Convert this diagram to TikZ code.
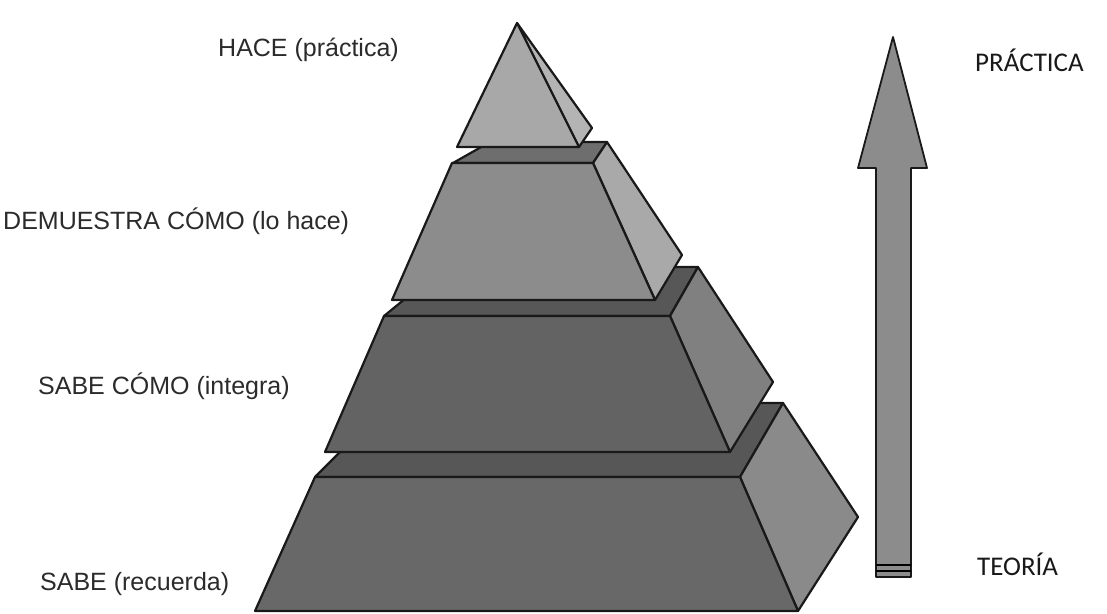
\documentclass[tikz,border=0pt]{standalone}
\usepackage{fontspec}
\setmainfont{Liberation Sans}
\newfontfamily\calibrifont{Carlito}
\usetikzlibrary{positioning}
\definecolor{topdark}{HTML}{575757}
\definecolor{toptwo}{HTML}{6E6E6E}
\definecolor{frontlow}{HTML}{686868}
\definecolor{frontmid}{HTML}{8C8C8C}
\definecolor{frontpeak}{HTML}{A8A8A8}
\definecolor{sidelow}{HTML}{8A8A8A}
\definecolor{sidemid}{HTML}{808080}
\definecolor{sidehigh}{HTML}{A9A9A9}
\definecolor{sidepeak}{HTML}{B4B4B4}
\definecolor{labgray}{HTML}{2B2B2B}

\begin{document}
\begin{tikzpicture}[x=1pt, y=-1pt, line join=round,
	facet/.style={draw=black!90, line width=2.2pt},
	lab/.style={font=\fontsize{25}{30}\selectfont, text=labgray, inner sep=0pt},
	poletext/.style={font=\calibrifont\fontsize{27}{32}\selectfont, text=black!90, inner sep=0pt}]
	\fill[white] (0,0) rectangle (1107,613);
	\useasboundingbox (0,0) rectangle (1107,613);
	% bottom block
	\filldraw[facet, fill=topdark] (315,477) -- (740,477) -- (783,403) -- (389,403) -- cycle;
	\filldraw[facet, fill=sidelow] (740,477) -- (783,403) -- (858,517) -- (798,611) -- cycle;
	\filldraw[facet, fill=frontlow] (315,477) -- (740,477) -- (798,611) -- (255,611) -- cycle;
	% third block
	\filldraw[facet, fill=topdark] (384,316) -- (670,316) -- (698,267) -- (444,267) -- cycle;
	\filldraw[facet, fill=sidemid] (670,316) -- (698,267) -- (773,382) -- (730,452) -- cycle;
	\filldraw[facet, fill=frontlow!95!black] (384,316) -- (670,316) -- (730,452) -- (325,452) -- cycle;
	% second block
	\filldraw[facet, fill=toptwo] (453,163) -- (593,163) -- (607,142) -- (490,142) -- cycle;
	\filldraw[facet, fill=sidehigh] (593,163) -- (607,142) -- (682,255) -- (655,300) -- cycle;
	\filldraw[facet, fill=frontmid] (452,163) -- (593,163) -- (655,300) -- (392,300) -- cycle;
	% peak
	\filldraw[facet, fill=sidepeak] (517,23) -- (592,128) -- (579,147) -- cycle;
	\filldraw[facet, fill=frontpeak] (517,23) -- (579,147) -- (457,147) -- cycle;
	% arrow
	\filldraw[facet, line width=1.8pt, fill=frontmid] (893,37) -- (927,168) -- (911,168) -- (911,577) -- (876,577) -- (876,168) -- (858,168) -- cycle;
	\draw[line width=2pt] (876,565) -- (911,565);
	\draw[line width=2pt] (876,571) -- (911,571);
	% labels
	\node[lab, anchor=base west] (hace) at (218,56) {HACE (práctica)};
	\node[lab, anchor=base west] (demuestra) at (3,229) {DEMUESTRA CÓMO (lo hace)};
	\node[lab, anchor=base west] (sabecomo) at (38,394) {SABE CÓMO (integra)};
	\node[lab, anchor=base west] (sabe) at (40,590) {SABE (recuerda)};
	\node[poletext, anchor=base west] (practica) at (975,71) {PRÁCTICA};
	\node[poletext, anchor=base west] (teoria) at (977,575) {TEORÍA};
\end{tikzpicture}
\end{document}
